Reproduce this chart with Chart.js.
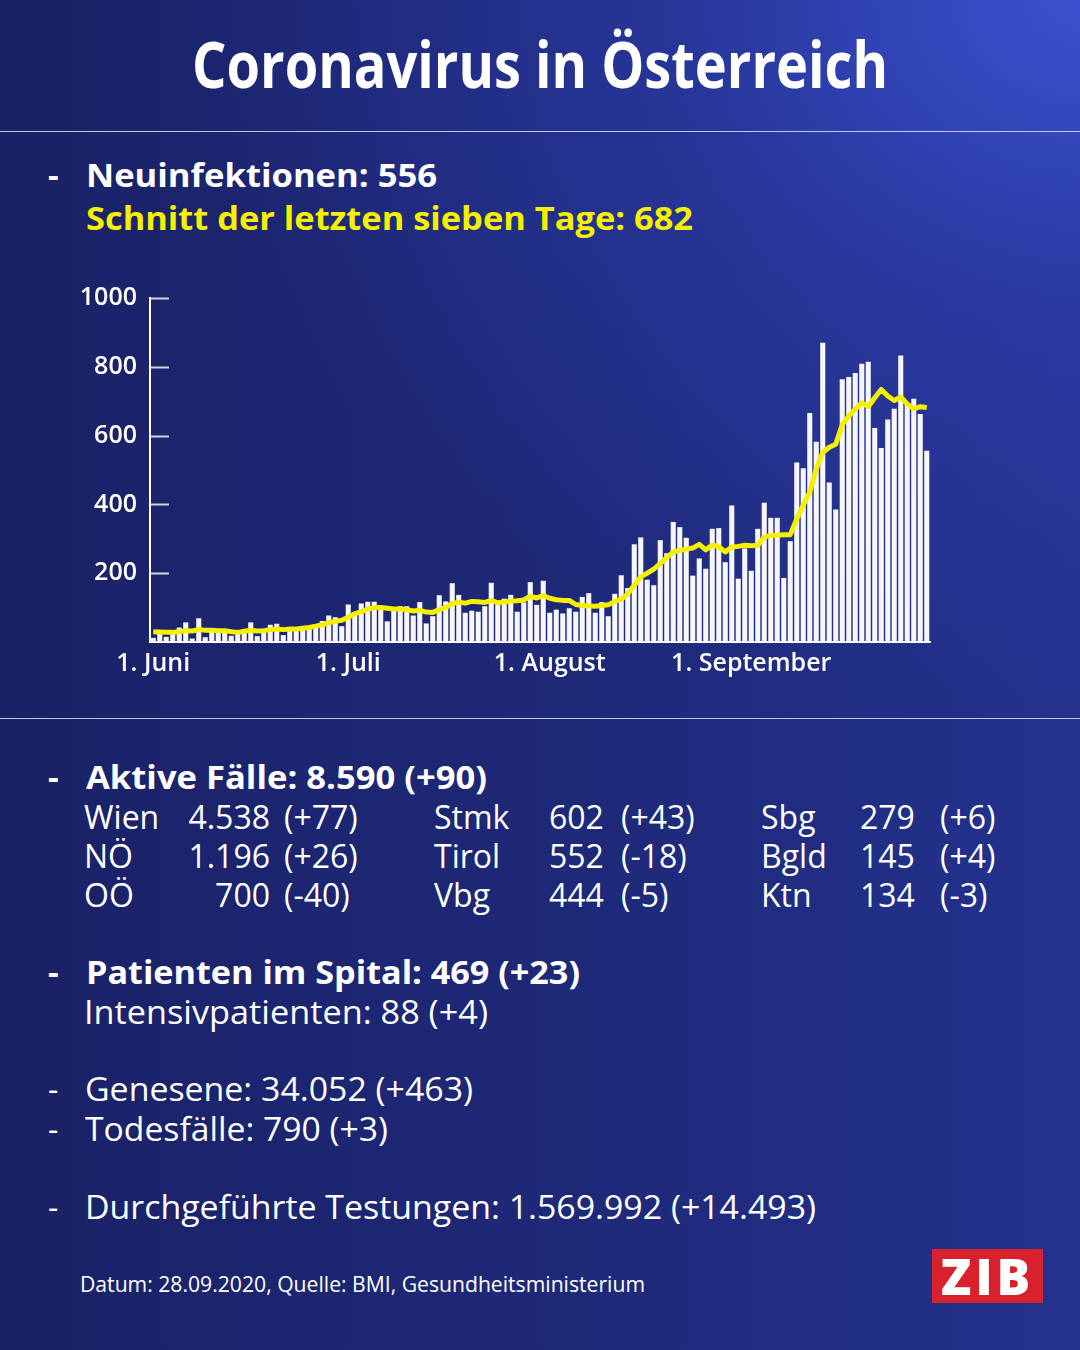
<!DOCTYPE html>
<html lang="de">
<head>
<meta charset="utf-8">
<title>Coronavirus in Österreich</title>
<script src="https://cdn.jsdelivr.net/npm/chart.js@4.4.1/dist/chart.umd.min.js"></script>
<style>
  html, body { margin: 0; padding: 0; }
  body {
    width: 1080px; height: 1350px; overflow: hidden; position: relative;
    font-family: "Open Sans", "Noto Sans", sans-serif; color: #fff;
    background:
      radial-gradient(ellipse 900px 700px at 100% 0%, rgba(60, 82, 210, 0.95) 0%, rgba(45, 62, 175, 0.55) 45%, rgba(30, 40, 120, 0) 100%),
      linear-gradient(90deg, #1a2166 0%, #1e2979 55%, #24328e 100%);
  }
  .t { position: absolute; white-space: nowrap; transform-origin: 0 0; }
  .b { font-weight: 700; }
  .y { color: #f4f000; }
  .rule { position: absolute; left: 0; width: 1080px; height: 1px; background: rgba(220, 224, 245, 0.85); }
  #chart-wrap { position: absolute; left: 60px; top: 270px; width: 900px; height: 430px; }
  #logo {
    position: absolute; left: 932px; top: 1249px; width: 111px; height: 54px;
    background: #d8212c; color: #fff; font-family: "Open Sans", sans-serif; font-weight: 800;
    font-size: 50px; line-height: 54px; text-align: center; letter-spacing: 4px;
  }
</style>
</head>
<body>
<div class="t b" data-x="192" data-cy="66" data-fs="64" data-w="696">Coronavirus in Österreich</div>
<div class="rule" style="top:131px"></div>

<div class="t b" data-x="48" data-cy="176" data-fs="33">-</div>
<div class="t b" data-x="86" data-cy="176" data-fs="33" data-w="351">Neuinfektionen: 556</div>
<div class="t b y" data-x="86" data-cy="219" data-fs="33" data-w="607">Schnitt der letzten sieben Tage: 682</div>

<div id="chart-wrap"><canvas id="chart" width="900" height="430"></canvas></div>

<div class="rule" style="top:718px"></div>

<div class="t b" data-x="48" data-cy="778" data-fs="33">-</div>
<div class="t b" data-x="86" data-cy="778" data-fs="33" data-w="401">Aktive Fälle: 8.590 (+90)</div>

<div id="regions"></div>

<div class="t b" data-x="48" data-cy="973" data-fs="33">-</div>
<div class="t b" data-x="86" data-cy="973" data-fs="33" data-w="494">Patienten im Spital: 469 (+23)</div>
<div class="t" data-x="84" data-cy="1013" data-fs="32" data-w="404">Intensivpatienten: 88 (+4)</div>

<div class="t" data-x="48" data-cy="1090" data-fs="32">-</div>
<div class="t" data-x="85" data-cy="1090" data-fs="32" data-w="388">Genesene: 34.052 (+463)</div>
<div class="t" data-x="48" data-cy="1130" data-fs="32">-</div>
<div class="t" data-x="85" data-cy="1130" data-fs="32" data-w="303">Todesfälle: 790 (+3)</div>
<div class="t" data-x="48" data-cy="1208" data-fs="32">-</div>
<div class="t" data-x="85" data-cy="1208" data-fs="32" data-w="731">Durchgeführte Testungen: 1.569.992 (+14.493)</div>

<div class="t" data-x="80" data-cy="1285" data-fs="21" data-w="565">Datum: 28.09.2020, Quelle: BMI, Gesundheitsministerium</div>
<div id="logo">ZIB</div>

<script>
// Daily new infections, 1 June - 28 September 2020
const cases = [
  12, 25, 15, 32, 42, 57, 10, 69, 14, 33,
  36, 35, 18, 32, 30, 57, 17, 38, 50, 53,
  20, 36, 40, 44, 45, 48, 61, 77, 72, 46,
  109, 80, 112, 117, 117, 98, 60, 95, 104, 104,
  77, 116, 54, 75, 136, 118, 171, 137, 85, 91,
  88, 104, 172, 108, 126, 137, 88, 115, 174, 108,
  178, 85, 94, 83, 98, 88, 131, 142, 85, 116,
  75, 140, 194, 157, 284, 304, 181, 165, 296, 258,
  349, 334, 303, 193, 243, 213, 329, 331, 232, 397,
  184, 272, 207, 329, 405, 361, 361, 186, 293, 522,
  505, 666, 582, 870, 464, 385, 764, 770, 782, 809,
  815, 622, 564, 647, 678, 833, 690, 707, 663, 556
];

// Seven-day average (yellow line)
const average = [
  30, 29, 28, 28, 30, 33, 32, 36, 34, 34,
  33, 33, 30, 28, 31, 34, 32, 33, 36, 38,
  36, 38, 38, 40, 42, 46, 50, 56, 60, 63,
  72, 82, 88, 96, 100, 100, 98, 96, 96, 94,
  90, 92, 87, 86, 94, 100, 112, 116, 113, 118,
  117, 115, 121, 114, 116, 119, 120, 122, 133, 128,
  135, 127, 123, 121, 121, 109, 106, 105, 104, 106,
  108, 118, 124, 140, 165, 190, 200, 212, 228, 245,
  262, 266, 270, 273, 284, 268, 282, 277, 262, 276,
  278, 281, 280, 281, 305, 310, 310, 312, 312, 358,
  398, 436, 503, 551, 566, 575, 632, 657, 677, 695,
  684, 710, 734, 715, 702, 712, 692, 678, 684, 682
];

const tickIndex = [0, 30, 61, 92];
const tickLabels = ['1. Juni', '1. Juli', '1. August', '1. September'];
const yTicks = [200, 400, 600, 800, 1000];

// Regional table
const regionNames = [['Wien', 'NÖ', 'OÖ'], ['Stmk', 'Tirol', 'Vbg'], ['Sbg', 'Bgld', 'Ktn']];
const regionActive = [['4.538', '1.196', '700'], ['602', '552', '444'], ['279', '145', '134']];
const regionDelta = [['(+77)', '(+26)', '(-40)'], ['(+43)', '(-18)', '(-5)'], ['(+6)', '(+4)', '(-3)']];

const days = cases.map((_, i) => {
  const d = new Date(2020, 5, 1 + i);
  return d.getDate() + '.' + (d.getMonth() + 1) + '.';
});

// build region rows
const regions = document.getElementById('regions');
const rowY = [818, 857, 896];
const colName = [84, 434, 761];
const colNum = [270, 549, 860];   // first column right aligned
const colDelta = [284, 621, 940];
regionNames.forEach((col, c) => {
  col.forEach((name, r) => {
    addText(name, colName[c], rowY[r]);
    const num = addText(regionActive[c][r], colNum[c], rowY[r]);
    if (c === 0) num.dataset.right = '1';
    addText(regionDelta[c][r], colDelta[c], rowY[r]);
  });
});

function addText(txt, x, cy) {
  const el = document.createElement('div');
  el.className = 't';
  el.textContent = txt;
  el.dataset.x = x;
  el.dataset.cy = cy;
  el.dataset.fs = 32;
  regions.appendChild(el);
  return el;
}

// place all text blocks
document.querySelectorAll('.t').forEach(el => {
  const fs = +el.dataset.fs;
  el.style.fontSize = fs + 'px';
  el.style.lineHeight = fs + 'px';
  el.style.top = (+el.dataset.cy - 0.531 * fs) + 'px';
  let x = +el.dataset.x;
  const w = el.getBoundingClientRect().width;
  if (el.dataset.w) {
    el.style.transform = 'scaleX(' + (+el.dataset.w / w) + ')';
  }
  if (el.dataset.right) x -= w;
  el.style.left = x + 'px';
});

// short tick marks pointing into the plot
const innerTicks = {
  id: 'innerTicks',
  beforeDatasetsDraw(chart) {
    const { ctx, chartArea, scales } = chart;
    ctx.save();
    ctx.strokeStyle = 'rgba(255, 255, 255, 0.8)';
    ctx.lineWidth = 2;
    yTicks.forEach(v => {
      const y = Math.round(scales.y.getPixelForValue(v)) + 0.5;
      ctx.beginPath();
      ctx.moveTo(chartArea.left, y);
      ctx.lineTo(chartArea.left + 19, y);
      ctx.stroke();
    });
    ctx.restore();
  }
};

const tickFont = { family: 'Open Sans', weight: '600', size: 25 };

new Chart(document.getElementById('chart'), {
  data: {
    labels: days,
    datasets: [
      {
        type: 'line',
        data: average,
        borderColor: '#f4f000',
        borderWidth: 5,
        pointRadius: 0,
        tension: 0,
        borderJoinStyle: 'round',
        order: 0
      },
      {
        type: 'bar',
        data: cases,
        backgroundColor: '#f6f6fc',
        barPercentage: 0.78,
        categoryPercentage: 1,
        order: 1
      }
    ]
  },
  options: {
    responsive: false,
    animation: false,
    layout: { padding: { top: 16, right: 30, left: 0, bottom: 0 } },
    plugins: { legend: { display: false }, tooltip: { enabled: false } },
    scales: {
      x: {
        type: 'category',
        offset: true,
        afterFit: (s) => { s.height = 58; },
        grid: { display: false, drawTicks: false },
        border: { display: true, color: '#ffffff', width: 2 },
        ticks: {
          autoSkip: false,
          maxRotation: 0,
          padding: 7,
          color: '#ffffff',
          font: tickFont,
          callback: (v, i) => {
            const k = tickIndex.indexOf(i);
            return k >= 0 ? tickLabels[k] : '';
          }
        }
      },
      y: {
        min: 0,
        max: 1000,
        afterFit: (s) => { s.width = 90; },
        grid: { display: false, drawTicks: false },
        border: { display: true, color: '#ffffff', width: 2 },
        ticks: {
          stepSize: 200,
          padding: 13,
          color: '#ffffff',
          font: tickFont,
          callback: (v) => (v === 0 ? '' : v)
        }
      }
    }
  },
  plugins: [innerTicks]
});
</script>
</body>
</html>
